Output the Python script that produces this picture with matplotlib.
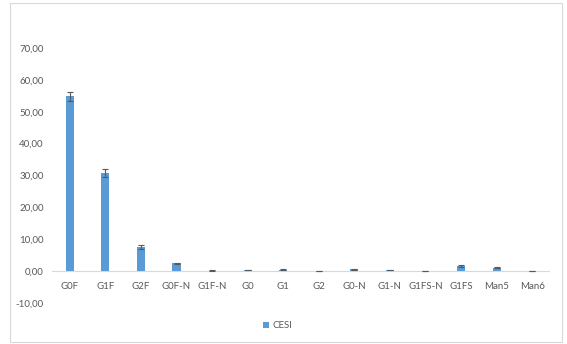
from matplotlib import pyplot as plt
from matplotlib.patches import Rectangle

labels = ['G0F', 'G1F', 'G2F', 'G0F-N', 'G1F-N', 'G0', 'G1', 'G2',
          'G0-N', 'G1-N', 'G1FS-N', 'G1FS', 'Man5', 'Man6']
cesi = [54.8, 30.7, 7.6, 2.5, 0.15, 0.4, 0.45, 0.0,
        0.6, 0.3, 0.1, 1.6, 1.0, 0.0]
cesi_err = [1.5, 1.2, 0.7, 0.15, 0.1, 0.1, 0.1, 0.0,
            0.1, 0.1, 0.05, 0.2, 0.15, 0.0]
yticks = [-10, 0, 10, 20, 30, 40, 50, 60, 70]

plt.rcParams['font.family'] = ['Lato', 'DejaVu Sans']
txt = '#595959'

fig = plt.figure(figsize=(5.67, 3.44), dpi=100)
ax = fig.add_axes([52/567, 1-303/344, 498/567, 255/344])

x = list(range(len(labels)))
ax.bar(x, cesi, width=0.23, color='#5B9BD5', label='CESI', zorder=2,
       yerr=cesi_err, error_kw=dict(ecolor='#595959', elinewidth=0.8, capsize=2.5, capthick=0.8))
ax.axhline(0, color='#D9D9D9', lw=0.8, zorder=1)

ax.set_xlim(-0.5, len(labels) - 0.5)
ax.set_ylim(-10, 70)
ax.set_yticks(yticks)
ax.set_yticklabels([('%.2f' % v).replace('.', ',') for v in yticks])
ax.set_xticks([])
for s in ax.spines.values():
    s.set_visible(False)
ax.tick_params(axis='both', length=0, labelsize=7, colors=txt)
ax.tick_params(axis='y', pad=6)

# category labels sit just under the zero line (low axis crossing)
for i, lab in zip(x, labels):
    ax.text(i, -4.7, lab, ha='center', va='center', fontsize=7, color=txt)

leg = fig.legend(loc='center', bbox_to_anchor=(278/567, 1-326/344), frameon=False,
                 fontsize=7, handlelength=0.6, handleheight=0.6, handletextpad=0.4)
for t in leg.get_texts():
    t.set_color(txt)

fig.patches.append(Rectangle((10/567, 2/344), 552/567, 339/344, transform=fig.transFigure,
                             fill=False, edgecolor='#D9D9D9', lw=0.8))

fig.savefig('out.png', dpi=100)
